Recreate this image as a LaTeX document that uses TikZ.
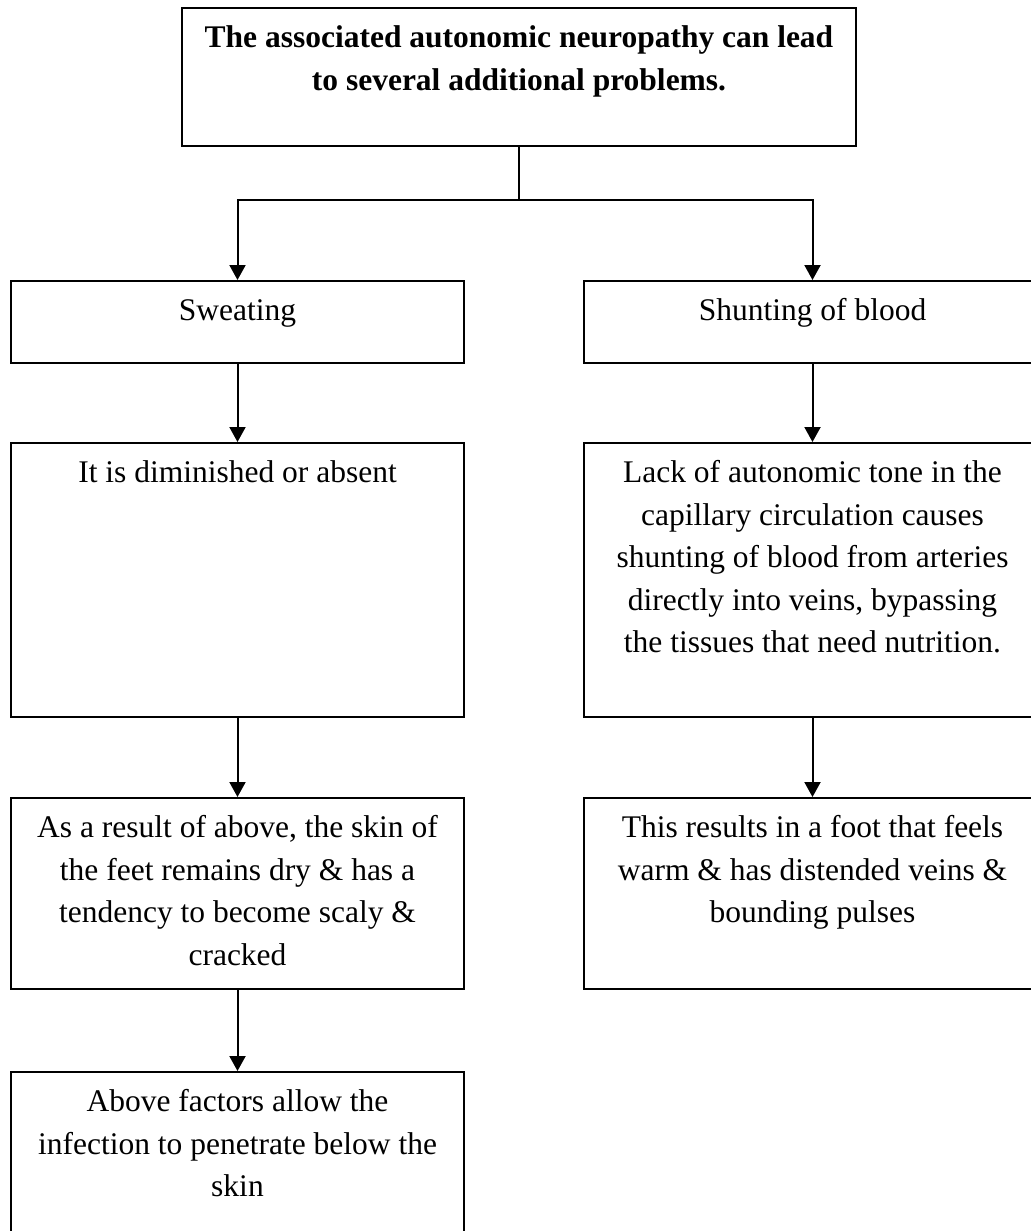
\documentclass[tikz,border=0pt]{standalone}
\usepackage{fontspec}
\setmainfont{Liberation Serif}
\usetikzlibrary{arrows.meta}
\newcommand{\boxtext}[3]{\parbox[t][#2][t]{#1}{\vspace*{5.1pt}\centering\strut #3}}
\tikzset{
  flowbox/.style={draw, line width=1pt, inner sep=0pt, anchor=north west,
    font=\fontsize{15.75pt}{21.25pt}\selectfont},
  flowarrow/.style={line width=1pt, -{Triangle[length=7.5pt,width=8pt]}},
  flowline/.style={line width=1pt},
}
\begin{document}
\begin{tikzpicture}[x=0.5pt,y=-0.5pt]
\fill[white] (0,0) rectangle (1031,1231);
\useasboundingbox (0,0) rectangle (1031,1231);
\clip (0,0) rectangle (1031,1231);

\node[flowbox] (top) at (181,7) {\boxtext{337pt}{69pt}{\bfseries The associated autonomic neuropathy can lead\\ to several additional problems.}};

\node[flowbox] (sweat) at (10,280) {\boxtext{226.5pt}{41pt}{Sweating}};
\node[flowbox] (shunt) at (583,280) {\boxtext{228.5pt}{41pt}{Shunting of blood}};

\node[flowbox] (dim) at (10,442) {\boxtext{226.5pt}{137pt}{It is diminished or absent}};
\node[flowbox] (lack) at (583,442) {\boxtext{228.5pt}{137pt}{Lack of autonomic tone in the\\ capillary circulation causes\\ shunting of blood from arteries\\ directly into veins, bypassing\\ the tissues that need nutrition.}};

\node[flowbox] (dry) at (10,797) {\boxtext{226.5pt}{95.5pt}{As a result of above, the skin of\\ the feet remains dry \& has a\\ tendency to become scaly \&\\ cracked}};
\node[flowbox] (warm) at (583,797) {\boxtext{228.5pt}{95.5pt}{This results in a foot that feels\\ warm \& has distended veins \&\\ bounding pulses}};

\node[flowbox] (infect) at (10,1071) {\boxtext{226.5pt}{87pt}{Above factors allow the\\ infection to penetrate below the\\ skin}};

\coordinate (split) at (top.south |- 0,200);
\draw[flowline] (top.south) -- (split);
\draw[flowarrow] (split) -| (sweat.north);
\draw[flowarrow] (split) -| (shunt.north);
\draw[flowarrow] (sweat.south) -- (dim.north);
\draw[flowarrow] (shunt.south) -- (lack.north);
\draw[flowarrow] (dim.south) -- (dry.north);
\draw[flowarrow] (lack.south) -- (warm.north);
\draw[flowarrow] (dry.south) -- (infect.north);
\end{tikzpicture}
\end{document}
